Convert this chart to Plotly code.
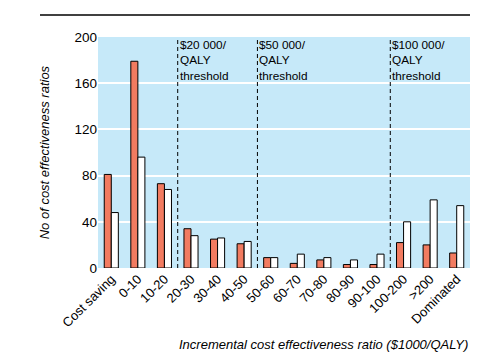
import plotly.graph_objects as go

categories = ["Cost saving", "0-10", "10-20", "20-30", "30-40", "40-50", "50-60",
              "60-70", "70-80", "80-90", "90-100", "100-200", ">200", "Dominated"]
series_a = [81, 179, 73, 34, 25, 21, 9, 4, 7, 3, 3, 22, 20, 13]
series_b = [48, 96, 68, 28, 26, 23, 9, 12, 9, 7, 12, 40, 59, 54]
threshold_positions = [2.5, 5.5, 10.5]
threshold_labels = [["$20 000/", "QALY", "threshold"],
                    ["$50 000/", "QALY", "threshold"],
                    ["$100 000/", "QALY", "threshold"]]
y_ticks = [0, 40, 80, 120, 160, 200]

FONT = "Liberation Sans Narrow, Liberation Sans, Arial, sans-serif"
x_idx = list(range(len(categories)))

fig = go.Figure()
fig.add_bar(x=x_idx, y=series_a, marker=dict(color="#f27b60", line=dict(color="black", width=1)),
            showlegend=False)
fig.add_bar(x=x_idx, y=series_b, marker=dict(color="white", line=dict(color="black", width=1)),
            showlegend=False)

for xv, lines in zip(threshold_positions, threshold_labels):
    fig.add_shape(type="line", x0=xv, x1=xv, y0=0, y1=200, xref="x", yref="y",
                  line=dict(color="black", width=1, dash="4px,3px"))
    fig.add_annotation(x=xv, y=200, xref="x", yref="y", text="<br>".join(lines), showarrow=False,
                       xanchor="left", yanchor="top", align="left", xshift=1, yshift=0,
                       borderpad=0, font=dict(size=11.8, color="black", family=FONT))

# top rule
fig.add_shape(type="line", xref="paper", yref="paper", x0=-0.156, x1=1.0, y0=1.095, y1=1.095,
              line=dict(color="black", width=1.5))

# axis titles
fig.add_annotation(xref="paper", yref="paper", x=1.0, y=-0.33, xanchor="right", yanchor="middle",
                   text="<i>Incremental cost effectiveness ratio ($1000/QALY)</i>",
                   showarrow=False, font=dict(size=13, family=FONT))
fig.add_annotation(xref="paper", yref="paper", x=-0.143, y=0.5, xanchor="center", yanchor="middle",
                   text="<i>No of cost effectiveness ratios</i>", textangle=-90,
                   showarrow=False, font=dict(size=13, family=FONT))

fig.update_layout(
    width=493, height=364,
    margin=dict(l=98, r=23, t=37, b=96),
    paper_bgcolor="white", plot_bgcolor="#c6e9f9",
    barmode="group", bargap=0.47, bargroupgap=0,
    font=dict(family=FONT, size=13, color="black"),
    xaxis=dict(tickmode="array", tickvals=x_idx, ticktext=categories, tickangle=-45,
               range=[-0.5, len(categories) - 0.5], showgrid=False, zeroline=False,
               ticks="", showline=False, automargin=False, tickfont=dict(size=13)),
    yaxis=dict(range=[0, 200], tickvals=y_ticks, showgrid=True, gridcolor="white", gridwidth=2,
               zeroline=False, ticks="", showline=False, automargin=False,
               tickfont=dict(size=13.5)),
)
fig.write_html("out.html", config={"displayModeBar": False},
               post_script="document.body.style.margin='0';document.body.style.overflow='hidden';")
